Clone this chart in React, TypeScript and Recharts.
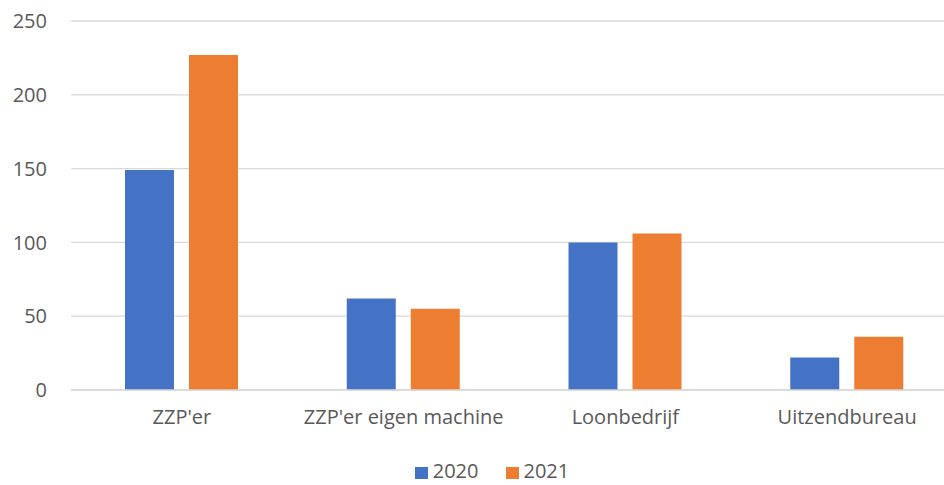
import React from "react";
import { BarChart, Bar, XAxis, YAxis, CartesianGrid, Legend } from "recharts";

const categories = ["ZZP'er", "ZZP'er eigen machine", "Loonbedrijf", "Uitzendbureau"];
const values2020 = [149, 62, 100, 22];
const values2021 = [227, 55, 106, 36];
const yTicks = [0, 50, 100, 150, 200, 250];

const data = categories.map((name, i) => ({ name, y2020: values2020[i], y2021: values2021[i] }));

const FONT = "'Open Sans', sans-serif";
const TEXT = "#595959";

const legendItems: [string, string][] = [
  ["2020", "#4472C4"],
  ["2021", "#ED7D31"],
];

const LegendContent = () => (
  <div
    style={{
      display: "flex",
      justifyContent: "center",
      fontFamily: FONT,
      fontSize: 20,
      lineHeight: "20px",
      height: 20,
      color: TEXT,
      paddingLeft: 40,
    }}
  >
    {legendItems.map(([label, color], i) => (
      <div key={label} style={{ display: "flex", alignItems: "center", marginLeft: i === 0 ? 0 : 27 }}>
        <span style={{ display: "inline-block", width: 13, height: 12, background: color, marginRight: 5, marginTop: 3 }} />
        <span>{label}</span>
      </div>
    ))}
  </div>
);

export default function App() {
  return (
    <div style={{ position: "absolute", left: 0, top: 0, width: 944, height: 485, overflow: "hidden", background: "#fff" }}>
      <BarChart
        width={958}
        height={485}
        data={data}
        margin={{ top: 21, right: 0, bottom: 0, left: 0 }}
        barGap={15}
        barSize={49}
      >
        <CartesianGrid vertical={false} stroke="#d9d9d9" strokeWidth={1.3} />
        <XAxis
          dataKey="name"
          height={50}
          axisLine={{ stroke: "#d9d9d9", strokeWidth: 1.3 }}
          tickLine={false}
          tickSize={0}
          tickMargin={20}
          tick={{ fill: TEXT, fontSize: 20, fontFamily: FONT }}
          interval={0}
        />
        <YAxis
          width={71}
          domain={[0, 250]}
          ticks={yTicks}
          axisLine={false}
          tickLine={false}
          tickSize={0}
          tickMargin={24}
          tick={{ fill: TEXT, fontSize: 20, fontFamily: FONT }}
        />
        <Legend
          verticalAlign="bottom"
          height={45}
          content={<LegendContent />}
          wrapperStyle={{ left: 0, top: 461, width: 944 }}
        />
        <Bar dataKey="y2020" name="2020" fill="#4472C4" isAnimationActive={false} />
        <Bar dataKey="y2021" name="2021" fill="#ED7D31" isAnimationActive={false} />
      </BarChart>
    </div>
  );
}
